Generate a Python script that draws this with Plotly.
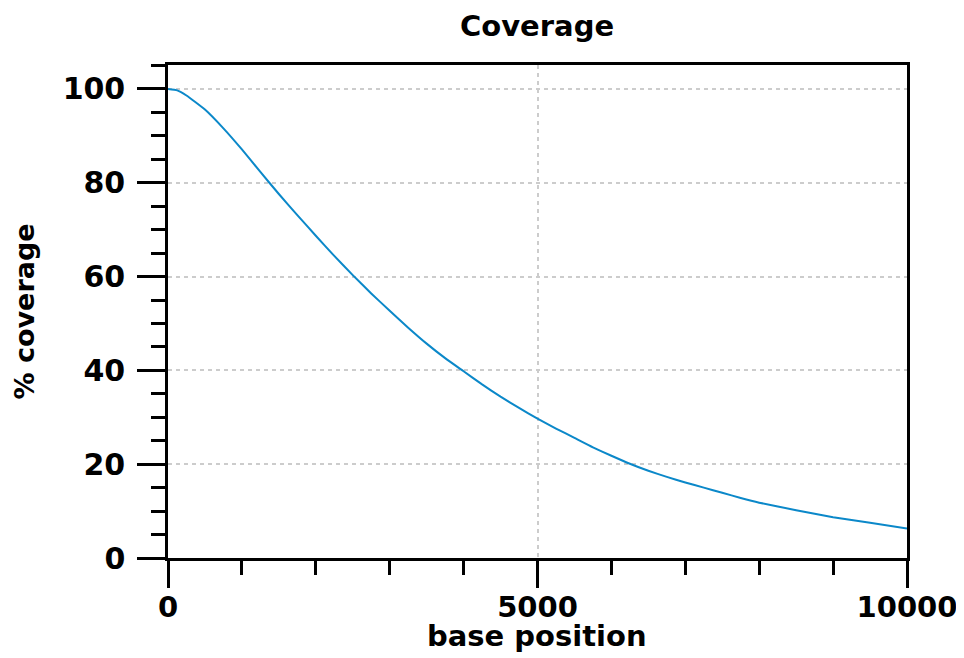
import plotly.graph_objects as go

base_position = [0, 125, 250, 500, 750, 1000, 1250, 1500, 1750, 2000, 2250, 2500, 2750, 3000,
                 3250, 3500, 3750, 4000, 4250, 4500, 4750, 5000, 5250, 5500, 5750, 6000,
                 6250, 6500, 6750, 7000, 7250, 7500, 7750, 8000, 8500, 9000, 9500, 10000]
coverage = [100, 99.7, 98.6, 95.6, 91.6, 87.1, 82.3, 77.6, 73.1, 68.7, 64.4, 60.3, 56.4, 52.7,
            49.1, 45.7, 42.6, 39.8, 37.0, 34.4, 32.0, 29.7, 27.6, 25.6, 23.6, 21.8,
            20.1, 18.6, 17.3, 16.1, 15.0, 13.9, 12.8, 11.8, 10.2, 8.7, 7.5, 6.3]

x_tick_vals = [0, 5000, 10000]
x_tick_text = ["0", "5000", "10000"]
y_tick_vals = [0, 20, 40, 60, 80, 100]
y_tick_text = ["0", "20", "40", "60", "80", "100"]

FONT = "DejaVu Sans"
OFF = 8  # default page body margin
W, H = 964 - OFF, 658 - OFF
PLOT_L, PLOT_R, PLOT_T, PLOT_B = 168 - OFF, 907 - OFF, 65 - OFF, 558 - OFF
PW, PH = PLOT_R - PLOT_L, PLOT_B - PLOT_T

fig = go.Figure()
fig.add_trace(go.Scatter(
    x=base_position, y=coverage, mode="lines",
    line=dict(color="#0b88c9", width=2, shape="spline", smoothing=0.4),
    showlegend=False, hoverinfo="skip",
))

fig.update_layout(
    width=W, height=H,
    margin=dict(l=PLOT_L, r=W - PLOT_R, t=PLOT_T, b=H - PLOT_B),
    paper_bgcolor="white", plot_bgcolor="white",
    font=dict(family=FONT, size=28, color="black"),
)

fig.add_annotation(text="<b>Coverage</b>", xref="paper", yref="paper",
                   x=(537 - OFF - PLOT_L) / PW, y=(PLOT_B - (26 - OFF)) / PH,
                   xanchor="center", yanchor="middle", showarrow=False,
                   font=dict(family=FONT, size=29, color="black"))
fig.add_annotation(text="<b>base position</b>", xref="paper", yref="paper",
                   x=(537 - OFF - PLOT_L) / PW, y=(PLOT_B - (636 - OFF)) / PH,
                   xanchor="center", yanchor="middle", showarrow=False,
                   font=dict(family=FONT, size=29, color="black"))
fig.add_annotation(text="<b>% coverage</b>", xref="paper", yref="paper",
                   x=(24 - OFF - PLOT_L) / PW, y=0.5, textangle=-90,
                   xanchor="center", yanchor="middle", showarrow=False,
                   font=dict(family=FONT, size=27, color="black"))

fig.update_xaxes(
    range=[0, 10000], automargin=False,
    tickmode="array", tickvals=x_tick_vals, ticktext=x_tick_text,
    tickfont=dict(family=FONT, size=29, color="black", weight="bold"),
    ticks="outside", ticklen=27, tickwidth=2.5, tickcolor="black",
    ticklabelstandoff=-6,
    minor=dict(dtick=1000, tick0=0, ticks="outside", ticklen=14, tickwidth=2.5,
               tickcolor="black", showgrid=False),
    showline=True, linewidth=2.5, linecolor="black", mirror=True,
    showgrid=True, gridcolor="#cccccc", gridwidth=2, griddash="4px,4px",
    zeroline=False,
)

fig.update_yaxes(
    range=[0, 105.1], automargin=False,
    tickmode="array", tickvals=y_tick_vals, ticktext=y_tick_text,
    tickfont=dict(family=FONT, size=30, color="black", weight="bold"),
    ticks="outside", ticklen=28, tickwidth=2.5, tickcolor="black",
    ticklabelstandoff=6,
    minor=dict(dtick=5, tick0=0, ticks="outside", ticklen=14, tickwidth=2.5,
               tickcolor="black", showgrid=False),
    showline=True, linewidth=2.5, linecolor="black", mirror=True,
    showgrid=True, gridcolor="#cccccc", gridwidth=2, griddash="4px,4px",
    zeroline=False,
)

fig.write_html("out.html")
